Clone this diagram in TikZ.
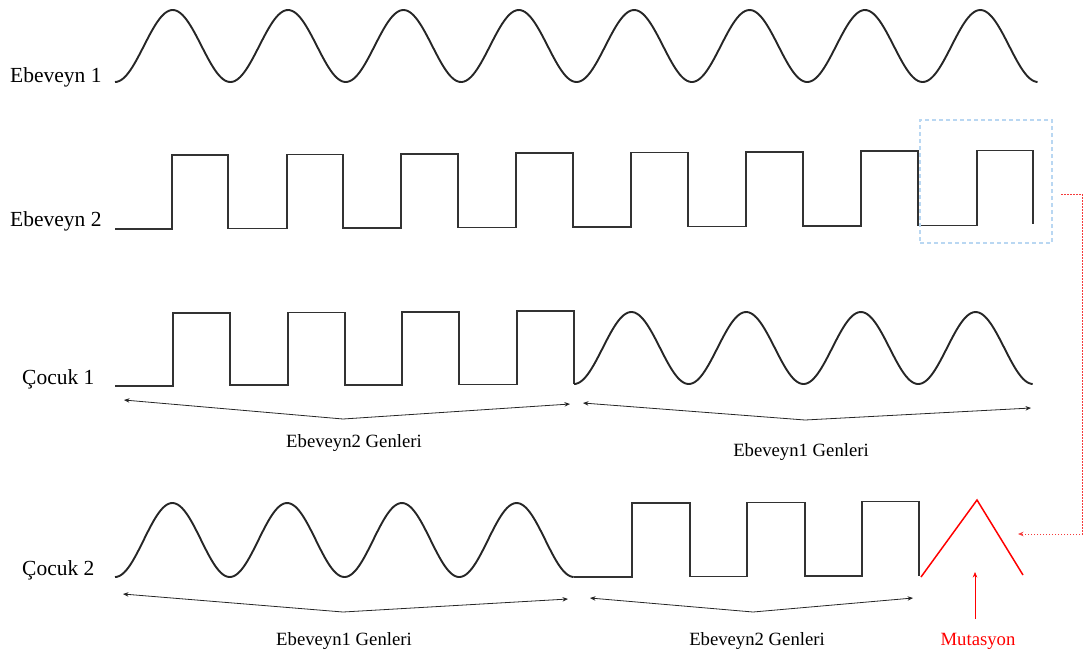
\documentclass[tikz,border=0pt]{standalone}
\usepackage{fontspec}
\setmainfont{Liberation Serif}
\usetikzlibrary{arrows.meta}
\definecolor{wave}{RGB}{38,38,38}
\definecolor{sq}{RGB}{50,50,50}
\definecolor{boxblue}{RGB}{185,215,242}
\definecolor{mut}{RGB}{255,0,0}
\definecolor{mutdot}{RGB}{245,60,60}
\tikzset{
  sine/.style={draw=wave, line width=1.9pt, line join=round},
  square/.style={draw=sq, line width=1.5pt, line join=miter},
  rowlabel/.style={anchor=base west, font=\fontsize{21.5}{24}\selectfont, inner sep=0pt},
  genlabel/.style={anchor=base, font=\fontsize{18.7}{21}\selectfont, inner sep=0pt},
  span/.style={draw=black!85, line width=0.8pt, {Stealth[length=5.5pt,width=4.5pt]}-{Stealth[length=5.5pt,width=4.5pt]}},
}
\begin{document}
\begin{tikzpicture}[x=1pt,y=-1pt]
\useasboundingbox (0,0) rectangle (1083,654);
% row labels
\node[rowlabel] (e1) at (10,82) {Ebeveyn 1};
\node[rowlabel] (e2) at (10,226) {Ebeveyn 2};
\node[rowlabel] (c1) at (22,384) {Çocuk 1};
\node[rowlabel] (c2) at (22,575) {Çocuk 2};
% Ebeveyn 1 sine
\draw[sine] plot[domain=0:8, samples=480] ({115+115.375*\x}, {46+36*cos(360*\x)});
% Ebeveyn 2 square
\draw[square] (115,229) -- (172,229) -- (172,155) -- (228,155) -- (228,228.5) -- (287,228.5) -- (287,154.5) -- (343,154.5) -- (343,228) -- (401,228) -- (401,154) -- (458,154) -- (458,227.5) -- (516,227.5) -- (516,153) -- (573,153) -- (573,227) -- (631,227) -- (631,152.5) -- (688,152.5) -- (688,226.5) -- (746,226.5) -- (746,152) -- (803,152) -- (803,226) -- (861,226) -- (861,151) -- (918,151) -- (918,225.5) -- (977,225.5) -- (977,150.5) -- (1033,150.5) -- (1033,224);
% blue dashed box
\node[draw=boxblue, dashed, line width=1.2pt, dash pattern=on 4pt off 3pt, minimum width=132pt, minimum height=123pt, inner sep=0pt] (mbox) at (986,181.5) {};
% Cocuk 1
\draw[square] (115,386) -- (173,386) -- (173,313) -- (230,313) -- (230,385) -- (288,385) -- (288,312.5) -- (345,312.5) -- (345,385) -- (402,385) -- (402,312) -- (459,312) -- (459,384.5) -- (517,384.5) -- (517,311) -- (574,311) -- (574,384);
\draw[sine] plot[domain=0:4, samples=240] ({574+114.75*\x}, {348+36*cos(360*\x)});
% Cocuk 1 spans
\coordinate (a1) at (124,400); \coordinate (m1) at (343,419); \coordinate (b1) at (570,404);
\draw[span] (a1) -- (m1) -- (b1);
\coordinate (a2) at (583,403); \coordinate (m2) at (805,420); \coordinate (b2) at (1031,408);
\draw[span] (a2) -- (m2) -- (b2);
\node[genlabel] (g1) at (354,447) {Ebeveyn2 Genleri};
\node[genlabel] (g2) at (801,456) {Ebeveyn1 Genleri};
% Cocuk 2
\draw[sine] plot[domain=0:4, samples=240] ({115+114.75*\x}, {540+37*cos(360*\x)});
\draw[square] (574,577) -- (632,577) -- (632,503) -- (690,503) -- (690,576.5) -- (747,576.5) -- (747,502.5) -- (805,502.5) -- (805,576) -- (862,576) -- (862,501.5) -- (919,501.5) -- (919,576);
\draw[draw=mut, line width=1.5pt, line join=miter] (921,577) -- (977,500) -- (1023,575);
% Cocuk 2 spans
\coordinate (a3) at (123,594); \coordinate (m3) at (343,612); \coordinate (b3) at (568,599);
\draw[span] (a3) -- (m3) -- (b3);
\coordinate (a4) at (590,598); \coordinate (m4) at (753,612); \coordinate (b4) at (913,598);
\draw[span] (a4) -- (m4) -- (b4);
\node[genlabel] (g3) at (344,645) {Ebeveyn1 Genleri};
\node[genlabel] (g4) at (757,645) {Ebeveyn2 Genleri};
% mutation label and arrow
\node[genlabel, text=mut] (mt) at (978,645) {Mutasyon};
\coordinate (mtop) at (975,572);
\draw[draw=mut, line width=0.6pt, -{Stealth[length=5.5pt,width=4.5pt]}] (975,619) -- (mtop);
% dotted red connector
\coordinate (d0) at (1061,194);
\coordinate (d1) at (1082,194);
\coordinate (d2) at (1082,534);
\coordinate (d3) at (1018,534);
\draw[draw=mutdot, line width=0.9pt, dash pattern=on 1.5pt off 1.5pt, -{Stealth[length=5.5pt,width=4.5pt]}] (d0) -- (d1) -- (d2) -- (d3);
\end{tikzpicture}
\end{document}
